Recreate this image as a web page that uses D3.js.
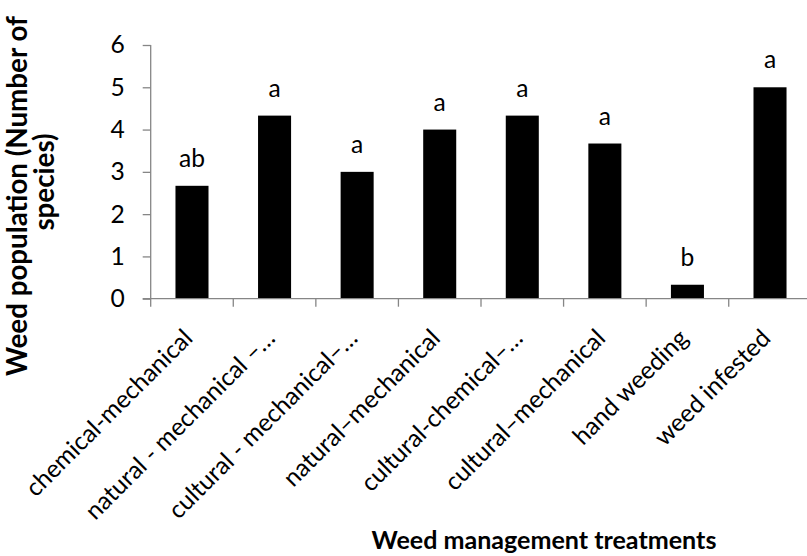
<!DOCTYPE html>
<html>
<head>
<meta charset="utf-8">
<script src="https://cdn.jsdelivr.net/npm/d3@7"></script>
<style>
  html, body { margin: 0; padding: 0; background: #fff; }
  svg { display: block; }
</style>
</head>
<body>
<svg id="chart" width="807" height="556"></svg>
<script>
// Weed population per management treatment
const categories = [
  "chemical-mechanical",
  "natural - mechanical \u2013\u2026",
  "cultural - mechanical\u2013\u2026",
  "natural\u2013mechanical",
  "cultural-chemical\u2013\u2026",
  "cultural\u2013mechanical",
  "hand weeding",
  "weed infested"
];
const values = [2.67, 4.33, 3.0, 4.0, 4.33, 3.67, 0.33, 5.0];
const letters = ["ab", "a", "a", "a", "a", "a", "b", "a"];
const yTicks = [0, 1, 2, 3, 4, 5, 6];
const yTitleLines = ["Weed population (Number of", "species)"];
const xTitle = "Weed management treatments";

const FONT = "Lato, 'Open Sans', sans-serif";
const AXIS = "#868686";

const svg = d3.select("#chart");

// plot frame
const x0 = 150.7, x1 = 811.3, yTop = 45, yBase = 298.7;

const x = d3.scaleBand().domain(categories).range([x0, x1]).padding(0);
const y = d3.scaleLinear().domain([0, 6]).range([yBase, yTop]);

// font size fitted so that a given string spans a given width
function fitSize(text, weight, target) {
  const t = svg.append("text")
    .style("font-family", FONT).style("font-weight", weight)
    .style("font-size", "100px").text(text);
  const w = t.node().getComputedTextLength();
  t.remove();
  return 100 * target / w;
}
const labelSize = fitSize("chemical-mechanical", "normal", 224);
const titleSize = fitSize(xTitle, "bold", 345);
const yTitleSize = fitSize(yTitleLines[0], "bold", 360);

// y axis
const yAxis = d3.axisLeft(y).tickValues(yTicks).tickFormat(d3.format("d"))
  .tickSize(8).tickPadding(18);
const gy = svg.append("g").attr("transform", `translate(${x0},0)`).call(yAxis);
gy.select(".domain").attr("stroke", AXIS).attr("stroke-width", 1.3)
  .attr("d", `M0,${yTop}V${yBase}`);
gy.selectAll(".tick line").attr("stroke", AXIS).attr("stroke-width", 1.3);
gy.selectAll(".tick text").attr("fill", "#000")
  .style("font-family", FONT).style("font-size", labelSize + "px");

// bars
const barW = x.bandwidth() * 0.4;
svg.append("g").selectAll("rect").data(values).join("rect")
  .attr("x", (d, i) => x(categories[i]) + (x.bandwidth() - barW) / 2)
  .attr("y", d => y(d))
  .attr("width", barW)
  .attr("height", d => yBase - y(d))
  .attr("fill", "#000");

// x axis: baseline and category boundary ticks
const gx = svg.append("g");
gx.append("line").attr("x1", x0 - 8).attr("x2", x1).attr("y1", yBase).attr("y2", yBase)
  .attr("stroke", AXIS).attr("stroke-width", 1.3);
const bounds = categories.map(c => x(c)).concat([x1]);
gx.selectAll("line.tk").data(bounds).join("line").attr("class", "tk")
  .attr("x1", d => d).attr("x2", d => d)
  .attr("y1", yBase).attr("y2", yBase + 8)
  .attr("stroke", AXIS).attr("stroke-width", 1.3);

// rotated category labels
svg.append("g").selectAll("text").data(categories).join("text")
  .attr("transform", d => `translate(${x(d) + x.bandwidth() / 2 + 2},${yBase + 41}) rotate(-45)`)
  .attr("text-anchor", "end")
  .style("font-family", FONT).style("font-size", labelSize + "px")
  .attr("fill", "#000")
  .text(d => d);

// significance letters
svg.append("g").selectAll("text").data(values).join("text")
  .attr("x", (d, i) => x(categories[i]) + x.bandwidth() / 2)
  .attr("y", d => y(d) - 19)
  .attr("text-anchor", "middle")
  .style("font-family", FONT).style("font-size", labelSize + "px")
  .attr("fill", "#000")
  .text((d, i) => letters[i]);

// axis titles
svg.append("text")
  .attr("x", 544).attr("y", 549)
  .attr("text-anchor", "middle")
  .style("font-family", FONT).style("font-weight", "bold").style("font-size", titleSize + "px")
  .attr("fill", "#000")
  .text(xTitle);

// y title: two lines, each centred along the axis
const yTitleCentres = [196, 182];
const yTitleBaselines = [27, 54];
svg.append("g").selectAll("text").data(yTitleLines).join("text")
  .attr("transform", (d, i) => `translate(${yTitleBaselines[i]},${yTitleCentres[i]}) rotate(-90)`)
  .attr("text-anchor", "middle")
  .style("font-family", FONT).style("font-weight", "bold").style("font-size", yTitleSize + "px")
  .attr("fill", "#000")
  .text(d => d);
</script>
</body>
</html>
